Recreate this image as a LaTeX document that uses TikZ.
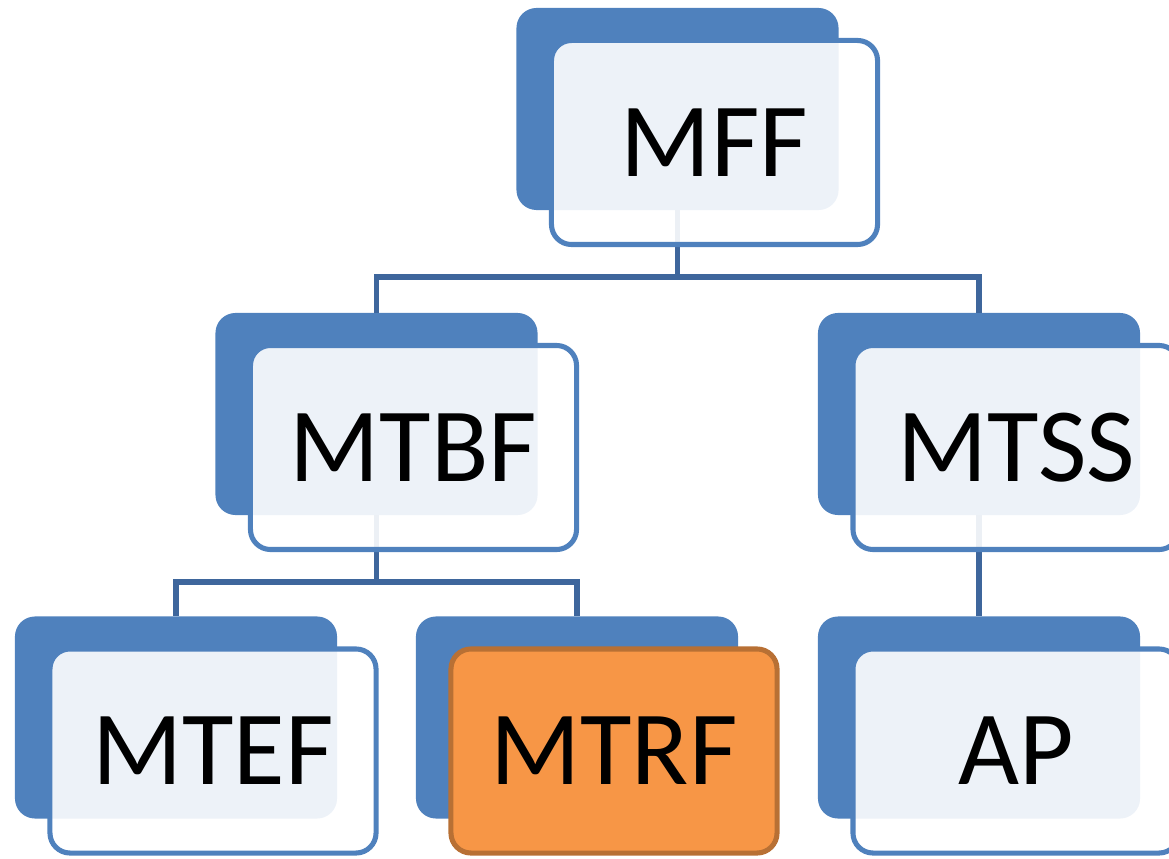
\documentclass[tikz,border=0pt]{standalone}
\usepackage{fontspec}
\setmainfont{Carlito}
\usepackage{tikz}
\usetikzlibrary{shapes}
\definecolor{box_blue}{RGB}{79,129,189}
\definecolor{line_blue}{RGB}{62,102,156}
\definecolor{box_orange}{RGB}{247,150,70}
\definecolor{edge_orange}{RGB}{184,112,52}

\begin{document}
\begin{tikzpicture}[x=0.025cm,y=-0.025cm]
    \tikzstyle{metricbg}=[rectangle, rounded corners=0.5cm, fill=box_blue, draw=none,
                          minimum width=8.05cm, minimum height=5.05cm]
    \tikzstyle{metric}=[rectangle, rounded corners=0.5cm, draw=box_blue, line width=3.6pt,
                        fill=white, fill opacity=0.9, text opacity=1, text=black,
                        minimum width=8.15cm, minimum height=5.1cm,
                        font=\fontsize{75}{90}\selectfont]
    \tikzstyle{metrichl}=[style=metric, fill=box_orange, fill opacity=1, draw=edge_orange]
    \tikzstyle{link}=[draw=line_blue, line width=3.8pt]

    \useasboundingbox (0,0) rectangle (1169,859);

    % back plates
    \node[metricbg] (mffb)  at (677.5,109)   {};
    \node[metricbg] (mtbfb) at (376.5,414)   {};
    \node[metricbg] (mtssb) at (979,414)     {};
    \node[metricbg] (mtefb) at (176,717.5)   {};
    \node[metricbg] (mtrfb) at (577,717.5)   {};
    \node[metricbg] (apb)   at (979,717.5)   {};

    % tree lines
    \coordinate (mffbus)  at (677.5,277);
    \coordinate (mtbfbus) at (376.5,582);
    \draw[link] (mffb.south) -- (mffbus) -| (mtbfb.north);
    \draw[link] (mffbus) -| (mtssb.north);
    \draw[link] (mtbfb.south) -- (mtbfbus) -| (mtefb.north);
    \draw[link] (mtbfbus) -| (mtrfb.north);
    \draw[link] (mtssb.south) -- (apb.north);

    % front cards
    \node[metric]   (mff)  at (714.5,142.5) {MFF};
    \node[metric]   (mtbf) at (413.5,447.5) {MTBF};
    \node[metric]   (mtss) at (1016,447.5)  {MTSS};
    \node[metric]   (mtef) at (213,751)     {MTEF};
    \node[metrichl] (mtrf) at (614,751)     {MTRF};
    \node[metric]   (ap)   at (1016,751)    {AP};
\end{tikzpicture}
\end{document}
